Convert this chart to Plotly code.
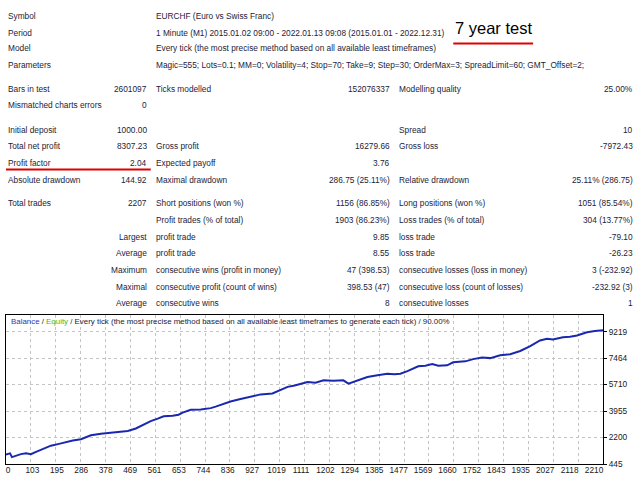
import plotly.graph_objects as go

# ---------------- data ----------------
trade_no = [0, 15, 22, 37, 55, 74, 92, 111, 137, 166, 196, 221, 247, 277, 299, 314,
            351, 399, 424, 450, 480, 509, 535, 561, 583, 616, 638, 653, 683, 720, 757,
            775, 793, 830, 867, 904, 941, 985, 1015, 1041, 1067, 1089, 1115, 1144, 1174,
            1210, 1247, 1266, 1299, 1336, 1373, 1410, 1436, 1458, 1484, 1506, 1524, 1550,
            1576, 1598, 1631, 1653, 1679, 1698, 1727, 1760, 1790, 1827, 1864, 1901, 1938,
            1974, 2000, 2022, 2059, 2085, 2111, 2148, 2177, 2207]
balance = [1080, 1150, 900, 1000, 1100, 1150, 1100, 1250, 1450, 1660, 1780, 1900, 2000,
           2090, 2250, 2350, 2450, 2525, 2580, 2635, 2800, 3050, 3285, 3450, 3610, 3650,
           3715, 3850, 4040, 4060, 4150, 4250, 4365, 4585, 4750, 4910, 5060, 5125, 5350,
           5560, 5650, 5775, 5885, 5840, 5990, 5960, 5990, 5775, 5980, 6210, 6330, 6425,
           6400, 6425, 6600, 6750, 6925, 6965, 7075, 6965, 6990, 7185, 7200, 7250, 7400,
           7510, 7465, 7660, 7725, 7940, 8265, 8635, 8745, 8700, 8850, 8880, 8960, 9175,
           9260, 9307]
y_ticks = [445, 2200, 3955, 5710, 7464, 9219]
x_labels = ["0", "103", "195", "286", "378", "469", "561", "653", "744", "836", "927",
            "1019", "1111", "1202", "1294", "1385", "1477", "1569", "1660", "1752",
            "1843", "1935", "2027", "2118", "2210"]
total_trades = 2207

# report table: (y pixel, col1 label, col2 value, col3 label, col4 value, col5 label, col6 value)
header_rows = [
    (10, "Symbol", "EURCHF (Euro vs Swiss Franc)"),
    (27, "Period", "1 Minute (M1) 2015.01.02 09:00 - 2022.01.13 09:08 (2015.01.01 - 2022.12.31)"),
    (43, "Model", "Every tick (the most precise method based on all available least timeframes)"),
    (60, "Parameters", "Magic=555; Lots=0.1; MM=0; Volatility=4; Stop=70; Take=9; Step=30; OrderMax=3; SpreadLimit=60; GMT_Offset=2;"),
]
table_rows = [
    (84, "Bars in test", "2601097", "Ticks modelled", "152076337", "Modelling quality", "25.00%"),
    (101, "Mismatched charts errors", "0", "", "", "", ""),
    (126, "Initial deposit", "1000.00", "", "", "Spread", "10"),
    (143, "Total net profit", "8307.23", "Gross profit", "16279.66", "Gross loss", "-7972.43"),
    (160, "Profit factor", "2.04", "Expected payoff", "3.76", "", ""),
    (177, "Absolute drawdown", "144.92", "Maximal drawdown", "286.75 (25.11%)", "Relative drawdown", "25.11% (286.75)"),
    (201, "Total trades", "2207", "Short positions (won %)", "1156 (86.85%)", "Long positions (won %)", "1051 (85.54%)"),
    (218, "", "", "Profit trades (% of total)", "1903 (86.23%)", "Loss trades (% of total)", "304 (13.77%)"),
    (235, "", "Largest", "profit trade", "9.85", "loss trade", "-79.10"),
    (252, "", "Average", "profit trade", "8.55", "loss trade", "-26.23"),
    (269, "", "Maximum", "consecutive wins (profit in money)", "47 (398.53)", "consecutive losses (loss in money)", "3 (-232.92)"),
    (286, "", "Maximal", "consecutive profit (count of wins)", "398.53 (47)", "consecutive loss (count of losses)", "-232.92 (3)"),
    (303, "", "Average", "consecutive wins", "8", "consecutive losses", "1"),
]

# ---------------- layout geometry ----------------
W, H = 640, 480
PL, PR, PT, PB = 5, 603, 315, 467
FONT = "Liberation Sans"
FS = 8.3
TXT = "#1c1c38"


def px(x):
    return (x - PL) / (PR - PL)


def py(y):
    return (PB - y) / (PB - PT)


annotations = []


def txt(x, y, s, anchor="left", size=FS, color=TXT):
    if not s:
        return
    annotations.append(dict(x=px(x), y=py(y), xref="paper", yref="paper", text=s,
                            showarrow=False, xanchor=anchor, yanchor="middle",
                            font=dict(family=FONT, size=size, color=color)))


for (yy, a, b) in header_rows:
    txt(5, yy, a)
    txt(153, yy, b)

for (yy, c1, c2, c3, c4, c5, c6) in table_rows:
    txt(5, yy, c1)
    txt(148, yy, c2, "right")
    txt(153, yy, c3)
    txt(392, yy, c4, "right")
    txt(397, yy, c5)
    txt(635, yy, c6, "right")

txt(453, 22, "7 year test", size=16.5, color="#000000")

annotations.append(dict(
    x=px(8), y=py(322), xref="paper", yref="paper", showarrow=False,
    xanchor="left", yanchor="middle",
    text="<span style='color:#3030c0'>Balance</span> / <span style='color:#30c030'>Equity</span> / "
         "Every tick (the most precise method based on all available least timeframes to generate each tick) / 90.00%",
    font=dict(family=FONT, size=7.9, color=TXT)))

shapes = [
    dict(type="line", xref="paper", yref="paper", x0=px(453), x1=px(533), y0=py(38), y1=py(38),
         line=dict(color="#e00000", width=2)),
    dict(type="line", xref="paper", yref="paper", x0=px(5), x1=px(150), y0=py(166.5), y1=py(166.5),
         line=dict(color="#e00000", width=2)),
]

# ---------------- figure ----------------
fig = go.Figure()
fig.add_trace(go.Scatter(x=trade_no, y=balance, mode="lines",
                         line=dict(color="#1a28b0", width=2), hoverinfo="skip", showlegend=False))
fig.add_trace(go.Scatter(x=[0], y=[y_ticks[0]], xaxis="x2", mode="markers",
                         marker=dict(opacity=0), hoverinfo="skip", showlegend=False))

ytop = y_ticks[0] + (y_ticks[-1] - y_ticks[0]) * (PB - PT) / (PB - 332)
grid_vals = [k * total_trades / 24 for k in range(25)]
n = len(x_labels) - 1
span = n * (PR - PL) / (594 - 7)
r0 = -(7 - PL) / (PR - PL) * span

fig.update_layout(
    width=W, height=H, margin=dict(l=PL, r=W - PR, t=PT, b=H - PB),
    paper_bgcolor="white", plot_bgcolor="white", hovermode=False,
    xaxis=dict(range=[0, total_trades], tickvals=grid_vals, showticklabels=False, ticks="",
               showgrid=True, gridcolor="#c4c4c4", griddash="3px,3px", gridwidth=1,
               showline=True, linecolor="#000000", linewidth=1, mirror=True, zeroline=False),
    xaxis2=dict(overlaying="x", side="bottom", range=[r0, r0 + span],
                tickvals=list(range(len(x_labels))), ticktext=x_labels, showgrid=False,
                ticks="", showline=False, zeroline=False,
                tickfont=dict(family=FONT, size=FS, color="#202020")),
    yaxis=dict(range=[y_ticks[0], ytop], tickvals=y_ticks, side="right", ticks="outside",
               ticklen=3, tickcolor="#000000",
               showgrid=True, gridcolor="#c4c4c4", griddash="3px,3px", gridwidth=1,
               showline=True, linecolor="#000000", linewidth=1, mirror=True, zeroline=False,
               tickfont=dict(family=FONT, size=FS, color="#202020")),
    annotations=annotations, shapes=shapes,
)

fig.write_html("out.html", config={"displayModeBar": False, "staticPlot": True},
               post_script="document.body.style.margin='0';document.body.style.overflow='hidden';")
